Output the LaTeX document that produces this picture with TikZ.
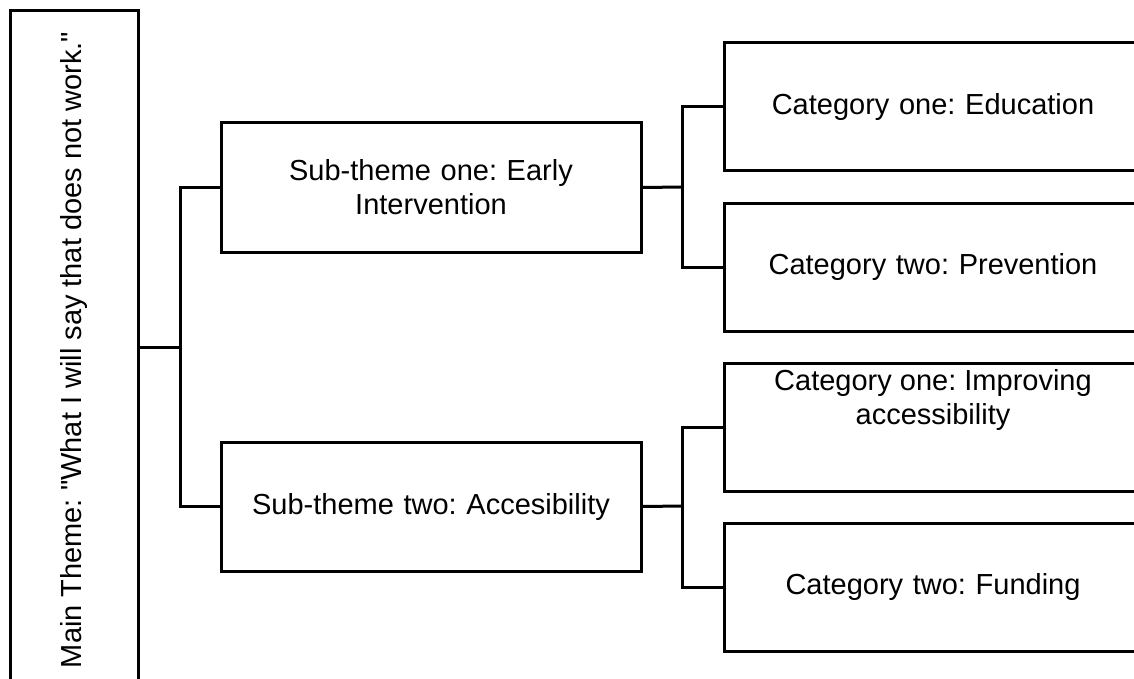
\documentclass[tikz,border=0pt]{standalone}
\usepackage{fontspec}
\setmainfont{Liberation Sans}[Ligatures=TeXOff]
\begin{document}
\frenchspacing
\begin{tikzpicture}[x=1pt,y=-1pt,
  every node/.style={font=\fontsize{29}{34}\selectfont},
  box/.style={draw=black,line width=3pt,rectangle,inner sep=0pt,align=center,text=black},
  conn/.style={draw=black,line width=3pt}]
\useasboundingbox (0,0) rectangle (1134,679);
\begin{scope}
\clip (0,0) rectangle (1134,679);
% main theme box (rotated)
\node[box,rotate=90,minimum width=678pt,minimum height=128pt] (main) at (74,350) {Main Theme: "What I will say that does not work."};
% sub-themes
\node[box,minimum width=420pt,minimum height=129pt,text width=400pt] (s1) at (431,187.5) {Sub-theme one: Early\\Intervention};
\node[box,minimum width=420pt,minimum height=129pt,text width=400pt] (s2) at (431,506.5) {Sub-theme two: Accesibility};
% categories
\node[box,minimum width=418pt,minimum height=128pt,text width=400pt] (A) at (933,107) {Category one: Education};
\node[box,minimum width=418pt,minimum height=128pt,text width=400pt] (B) at (933,267) {Category two: Prevention};
\node[box,minimum width=418pt,minimum height=128pt] (C) at (933,427) {};
\node[align=center,inner sep=0pt,text=black] (Ct) at ([yshift=27pt]C.center) {Category one: Improving\\accessibility};
\node[box,minimum width=418pt,minimum height=128pt,text width=400pt] (D) at (933,587) {Category two: Funding};
% junctions
\coordinate (j1) at (180,347);
\coordinate (k1) at (682,187);
\coordinate (k2) at (682,506);
\draw[conn] (main.south |- j1) -- (j1);
\draw[conn] (s1.west) -| (j1) |- (s2.west);
\draw[conn] (s1.east) -- (k1);
\draw[conn] (A.west) -| (k1) |- (B.west);
\draw[conn] (s2.east) -- (k2);
\draw[conn] (C.west) -| (k2) |- (D.west);
\end{scope}
\end{tikzpicture}
\end{document}
